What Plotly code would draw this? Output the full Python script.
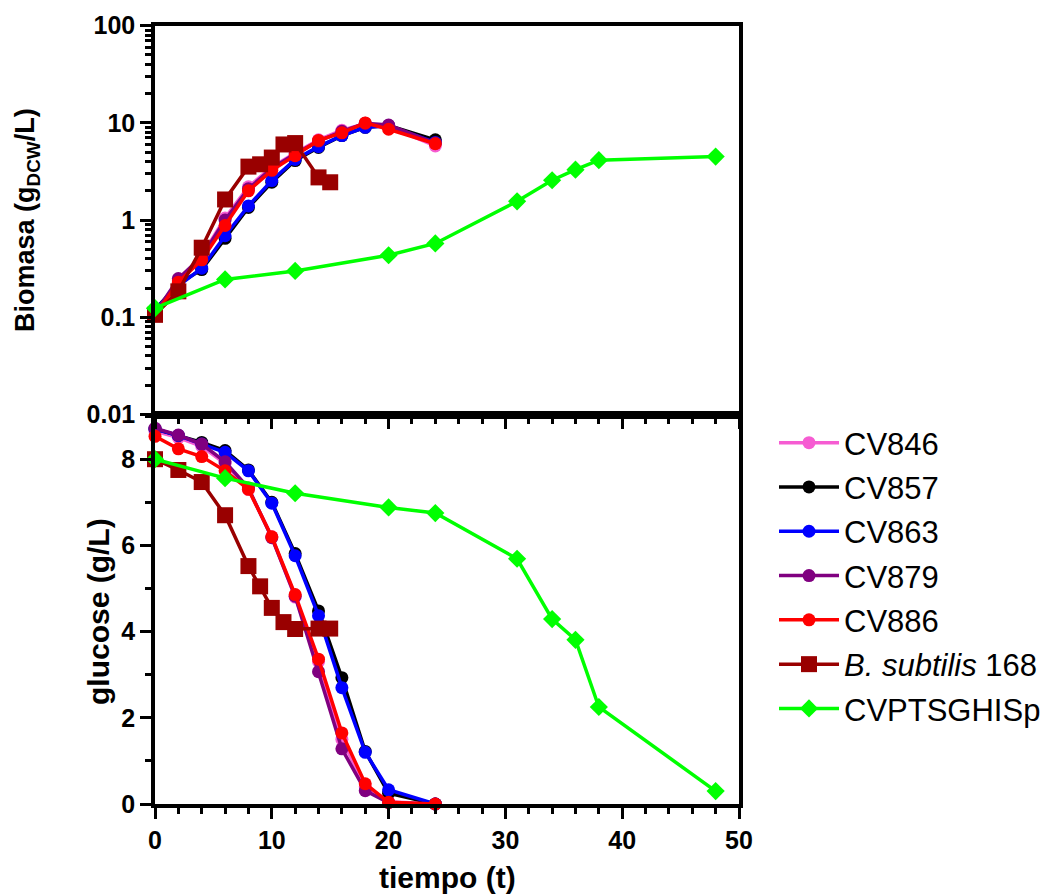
import plotly.graph_objects as go

# ---------------- data ----------------
t_cv = [0, 2, 4, 6, 8, 10, 12, 14, 16, 18, 20, 24]
t_bs = [0, 2, 4, 6, 8, 9, 10, 11, 12, 14, 15]
t_gr = [0, 6, 12, 20, 24, 31, 34, 36, 38, 48]

# Biomass (g_DCW/L)
bio_cv846 = [0.11, 0.24, 0.43, 1.05, 2.2, 3.5, 4.9, 6.7, 8.4, 9.8, 9.2, 5.8]
bio_cv857 = [0.12, 0.22, 0.31, 0.65, 1.35, 2.45, 4.1, 5.6, 7.4, 9.0, 9.4, 6.7]
bio_cv863 = [0.12, 0.21, 0.32, 0.69, 1.4, 2.55, 4.2, 5.7, 7.4, 9.0, 9.3, 6.3]
bio_cv879 = [0.11, 0.25, 0.42, 1.0, 2.1, 3.4, 4.8, 6.5, 8.2, 9.9, 9.5, 6.2]
bio_cv886 = [0.105, 0.23, 0.39, 0.88, 2.0, 3.25, 4.6, 6.6, 7.9, 10.0, 8.6, 6.1]
bio_bs = [0.106, 0.185, 0.52, 1.63, 3.55, 3.75, 4.4, 6.0, 6.2, 2.75, 2.45]
bio_gr = [0.124, 0.245, 0.30, 0.435, 0.575, 1.56, 2.57, 3.3, 4.14, 4.5]

# Glucose (g/L)
glc_cv846 = [8.65, 8.5, 8.3, 7.9, 7.3, 6.2, 4.8, 3.3, 1.5, 0.4, 0.05, 0.0]
glc_cv857 = [8.7, 8.55, 8.39, 8.2, 7.75, 7.0, 5.81, 4.48, 2.93, 1.22, 0.25, 0.0]
glc_cv863 = [8.7, 8.55, 8.35, 8.16, 7.73, 6.98, 5.76, 4.37, 2.70, 1.20, 0.33, 0.0]
glc_cv879 = [8.72, 8.56, 8.35, 7.94, 7.33, 6.18, 4.82, 3.07, 1.28, 0.31, 0.03, 0.0]
glc_cv886 = [8.53, 8.24, 8.06, 7.73, 7.30, 6.20, 4.86, 3.36, 1.65, 0.47, 0.04, 0.0]
glc_bs = [8.0, 7.75, 7.47, 6.70, 5.52, 5.05, 4.55, 4.22, 4.06, 4.07, 4.07]
glc_gr = [8.0, 7.56, 7.21, 6.88, 6.75, 5.69, 4.29, 3.81, 2.25, 0.3]

names = ["CV846", "CV857", "CV863", "CV879", "CV886",
         "<i>B. subtilis</i> 168", "CVPTSGHISp"]
colors = ["#F65CD2", "#000000", "#0000FF", "#800080", "#FF0000", "#990000", "#00FF00"]
symbols = ["circle", "circle", "circle", "circle", "circle", "square", "diamond"]
sizes = [13, 13, 13, 13, 13, 16, 14]
times = [t_cv, t_cv, t_cv, t_cv, t_cv, t_bs, t_gr]
bio = [bio_cv846, bio_cv857, bio_cv863, bio_cv879, bio_cv886, bio_bs, bio_gr]
glc = [glc_cv846, glc_cv857, glc_cv863, glc_cv879, glc_cv886, glc_bs, glc_gr]

FONT = "Liberation Sans, Arial, sans-serif"

fig = go.Figure()
for i in range(len(names)):
    common = dict(
        mode="lines+markers",
        line=dict(color=colors[i], width=3.5),
        marker=dict(symbol=symbols[i], size=sizes[i], color=colors[i]),
        cliponaxis=False,
        legendgroup=f"g{i}",
        name=names[i],
    )
    fig.add_trace(go.Scatter(x=times[i], y=bio[i], xaxis="x2", yaxis="y2",
                             showlegend=False, **common))
    fig.add_trace(go.Scatter(x=times[i], y=glc[i], xaxis="x", yaxis="y",
                             showlegend=True, **common))

xdom = [155 / 1052, 739 / 1052]
top_dom = [1 - 414.5 / 894, 1 - 25.7 / 894]
bot_dom = [1 - 804 / 894, 1 - 414.5 / 894]

tickfont = dict(family=FONT, size=25, color="black", weight="bold")
axis_common = dict(showline=True, linecolor="black", linewidth=3.5, showgrid=False,
                   zeroline=False, ticks="outside", tickcolor="black", tickwidth=3,
                   mirror=True, automargin=False)

minor_log = [m * 10 ** k for k in range(-2, 2) for m in range(2, 10)]

fig.update_layout(
    width=1052, height=894, autosize=False,
    margin=dict(l=0, r=0, t=0, b=0, autoexpand=False),
    paper_bgcolor="white", plot_bgcolor="white",
    font=dict(family=FONT, color="black"),
    xaxis=dict(domain=xdom, anchor="y", range=[0, 50], tickmode="linear", tick0=0, dtick=10,
               ticklen=11, tickfont=tickfont,
               minor=dict(ticks="outside", ticklen=6, tickwidth=3, tickcolor="black",
                          tickmode="linear", tick0=0, dtick=2),
               **axis_common),
    yaxis=dict(domain=bot_dom, anchor="x", range=[0, 9.037], tickmode="linear", tick0=0, dtick=2,
               ticklen=11, tickfont=tickfont,
               minor=dict(ticks="outside", ticklen=6, tickwidth=3, tickcolor="black",
                          tickmode="linear", tick0=1, dtick=1),
               **axis_common),
    xaxis2=dict(domain=xdom, anchor="y2", range=[0, 50], tickmode="linear", tick0=0, dtick=10,
                ticklen=11, showticklabels=False,
                minor=dict(ticks="outside", ticklen=6, tickwidth=3, tickcolor="black",
                           tickmode="linear", tick0=0, dtick=2),
                **axis_common),
    yaxis2=dict(domain=top_dom, anchor="x2", type="log", range=[-2, 2],
                tickmode="array", tickvals=[0.01, 0.1, 1, 10, 100],
                ticktext=["0.01", "0.1", "1", "10", "100"],
                ticklen=11, tickfont=tickfont,
                minor=dict(ticks="outside", ticklen=6, tickwidth=3, tickcolor="black",
                           tickmode="array", tickvals=minor_log),
                **axis_common),
    legend=dict(x=(835 - 61) / 1052, y=1 - 416 / 894, xanchor="left", yanchor="top",
                font=dict(family=FONT, size=31, color="black"),
                bgcolor="rgba(0,0,0,0)", traceorder="grouped", tracegroupgap=1,
                itemwidth=60),
    showlegend=True,
)

fig.add_annotation(text="<b>Biomasa (g<sub>DCW</sub>/L)</b>", textangle=-90,
                   xref="paper", yref="paper", x=27 / 1052, y=1 - 220 / 894,
                   xanchor="center", yanchor="middle", showarrow=False,
                   font=dict(family=FONT, size=27, color="black"))
fig.add_annotation(text="<b>glucose (g/L)</b>", textangle=-90,
                   xref="paper", yref="paper", x=98 / 1052, y=1 - 612 / 894,
                   xanchor="center", yanchor="middle", showarrow=False,
                   font=dict(family=FONT, size=30, color="black"))
fig.add_annotation(text="<b>tiempo (t)</b>",
                   xref="paper", yref="paper", x=447 / 1052, y=1 - 877 / 894,
                   xanchor="center", yanchor="middle", showarrow=False,
                   font=dict(family=FONT, size=30, color="black"))

fig.write_html("out.html")
